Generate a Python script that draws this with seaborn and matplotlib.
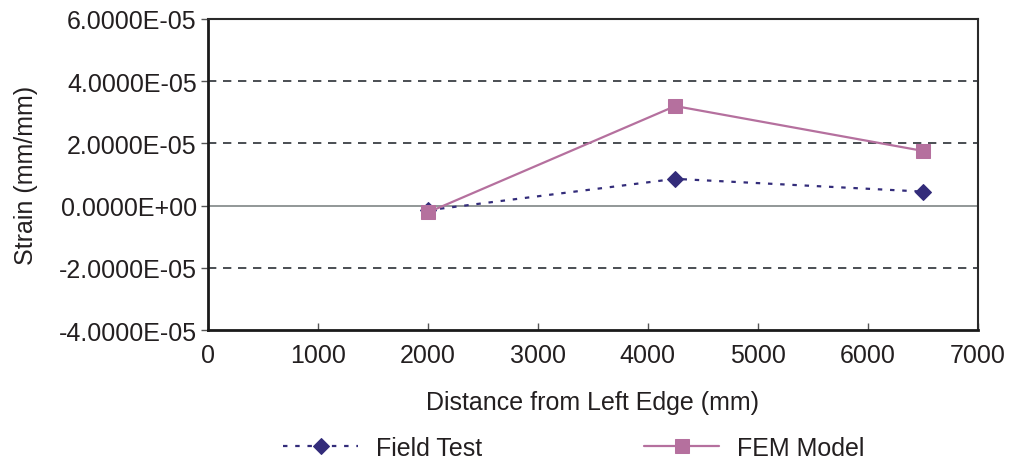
import numpy as np
import pandas as pd
import seaborn as sns
import matplotlib.pyplot as plt
from matplotlib.ticker import FuncFormatter

# data
distance = [2000, 4250, 6500]
field_test = [-1.5e-6, 8.6e-6, 4.5e-6]
fem_model = [-2.2e-6, 3.2e-5, 1.76e-5]

y_ticks = [-4e-5, -2e-5, 0, 2e-5, 4e-5, 6e-5]
x_ticks = [0, 1000, 2000, 3000, 4000, 5000, 6000, 7000]

df = pd.DataFrame({
    "Distance": distance * 2,
    "Strain": field_test + fem_model,
    "Series": ["Field Test"] * 3 + ["FEM Model"] * 3,
})

sns.set_style("white")
plt.rcParams['font.family'] = ['Liberation Sans', 'DejaVu Sans']

fig = plt.figure(figsize=(10.12, 4.64), dpi=100)
ax = fig.add_axes([0.2055, 0.2866, 0.7605, 0.6704])

navy = "#332c7a"
pink = "#b5709e"
txt = "#231f20"
fs = 18

# grid lines
for yv in y_ticks[1:-1]:
    if yv == 0:
        ax.axhline(0, color="#7f8585", lw=1.2, zorder=1)
    else:
        ax.axhline(yv, color="#2b3036", lw=1.2, ls=(0, (5, 4)), zorder=1)

sns.lineplot(data=df[df.Series == "Field Test"], x="Distance", y="Strain",
             ax=ax, color=navy, lw=1.6, ls=(0, (2, 3.5)), marker="D",
             markersize=8, markeredgecolor=navy, label="Field Test", zorder=3)
sns.lineplot(data=df[df.Series == "FEM Model"], x="Distance", y="Strain",
             ax=ax, color=pink, lw=1.6, marker="s", markersize=10,
             markeredgecolor=pink, label="FEM Model", zorder=4)

ax.set_xlim(0, 7000)
ax.set_ylim(-4e-5, 6e-5)
ax.set_xticks(x_ticks)
ax.set_yticks(y_ticks)
ax.yaxis.set_major_formatter(FuncFormatter(lambda v, p: f"{v:.4E}"))
ax.tick_params(axis="y", direction="out", length=5, width=1, color="#555555",
               labelsize=fs, pad=3, left=True, labelcolor=txt)
ax.tick_params(axis="x", direction="in", length=5, width=1, color="#555555",
               labelsize=fs, pad=9, bottom=True, labelcolor=txt)

for side in ["left", "bottom"]:
    ax.spines[side].set_color("#1a1a1a")
    ax.spines[side].set_linewidth(2)
for side in ["top", "right"]:
    ax.spines[side].set_color("#2a2a2a")
    ax.spines[side].set_linewidth(1.5)

ax.set_xlabel("Distance from Left Edge (mm)", fontsize=fs, labelpad=17, color=txt)
ax.set_ylabel("Strain (mm/mm)", fontsize=fs, labelpad=15, color=txt)

handles, labels = ax.get_legend_handles_labels()
ax.get_legend().remove()
fig.legend(handles, labels, loc="center", bbox_to_anchor=(0.567, 0.032), ncol=2,
           frameon=False, fontsize=fs, handlelength=3.0, columnspacing=6.5,
           handletextpad=0.7, labelcolor=txt)

fig.savefig("out.png", dpi=100)
